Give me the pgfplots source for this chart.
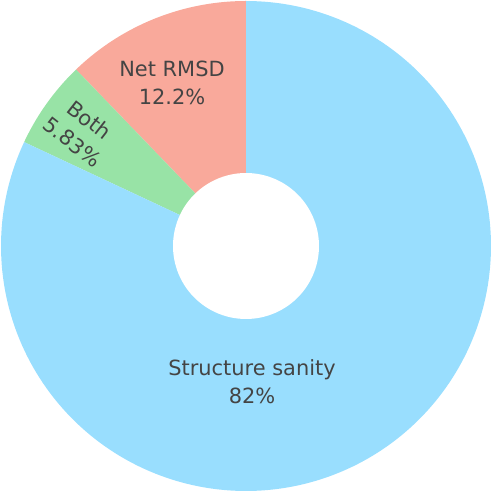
\documentclass[border=0pt]{standalone}
\usepackage{pgfplots}
\pgfplotsset{compat=1.18}
\usepackage{fontspec}
\setmainfont{DejaVu Sans}
\definecolor{cblue}{HTML}{99DEFE}
\definecolor{cgreen}{HTML}{98E3A6}
\definecolor{csalmon}{HTML}{F9A99B}
\definecolor{ctext}{HTML}{444444}
\begin{document}
\begin{tikzpicture}
\begin{axis}[
  scale only axis, width=492bp, height=494bp,
  xmin=-246, xmax=246, ymin=-248, ymax=246,
  hide axis, clip=false,
]
% values (percent): Net RMSD 12.2, Both 5.83, Structure sanity 82
% start at top (90 deg), going counterclockwise for Net RMSD and Both
\addplot[fill=csalmon, draw=none, domain=90:133.92, samples=60, variable=\t]
  ({245*cos(t)},{245*sin(t)}) -- (axis cs:0,0) -- cycle;
\addplot[fill=cgreen, draw=none, domain=133.92:154.908, samples=40, variable=\t]
  ({245*cos(t)},{245*sin(t)}) -- (axis cs:0,0) -- cycle;
\addplot[fill=cblue, draw=none, domain=154.908:450, samples=200, variable=\t]
  ({245*cos(t)},{245*sin(t)}) -- (axis cs:0,0) -- cycle;
\addplot[fill=white, draw=none, domain=0:360, samples=120, variable=\t]
  ({73*cos(t)},{73*sin(t)}) -- cycle;
\draw[draw=none] (axis cs:-246,-248) rectangle (axis cs:246,246);
\node[text=ctext, align=center, inner sep=0pt, font=\fontsize{21}{28}\selectfont] at (axis cs:-74,163) {Net RMSD\\12.2\%};
\node[text=ctext, align=center, inner sep=0pt, rotate=-38, font=\fontsize{21}{28}\selectfont] at (axis cs:-165,115) {Both\\5.83\%};
\node[text=ctext, align=center, inner sep=0pt, font=\fontsize{21}{28}\selectfont] at (axis cs:6,-136) {Structure sanity\\82\%};
\end{axis}
\end{tikzpicture}
\end{document}
